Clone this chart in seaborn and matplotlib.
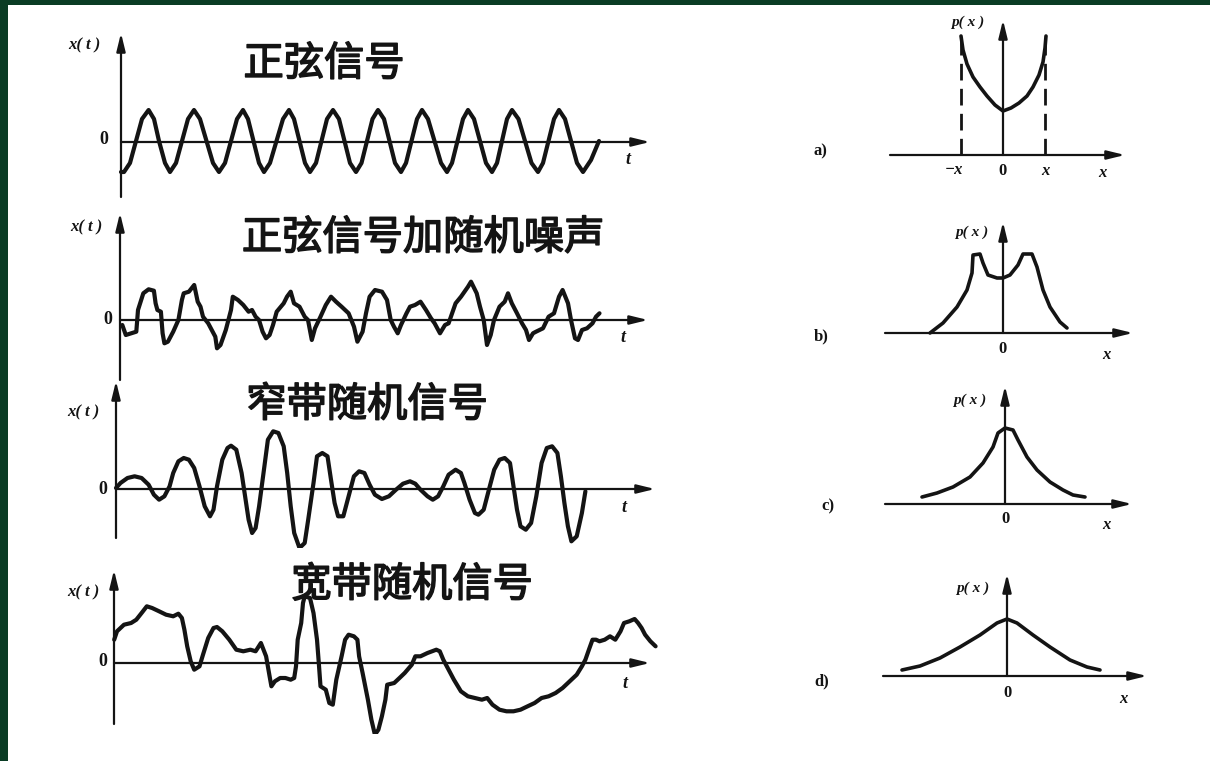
import numpy as np
import pandas as pd
import matplotlib
matplotlib.use("Agg")
import matplotlib.pyplot as plt
import matplotlib.patheffects as pe
import seaborn as sns
from matplotlib.patches import Rectangle

# ---------- data (arbitrary units)
titles = ["正弦信号", "正弦信号加随机噪声", "窄带随机信号", "宽带随机信号"]
panel_tags = ["a)", "b)", "c)", "d)"]

# sine signal
sine_t = [0.3, 0.6, 1.2, 1.8, 2.4, 3.06, 3.6, 4.1, 4.7, 5.2, 5.8, 6.4, 7.0, 7.6,
          8.2, 8.85, 9.5, 10.1, 10.7, 11.3, 11.9, 12.5, 13.0, 13.55, 14.1, 14.6,
          15.2, 15.85, 16.5, 17.1, 17.6, 18.15, 18.7, 19.2, 19.8, 20.35, 20.9, 21.5,
          22.1, 22.65, 23.2, 23.8, 24.35, 24.9, 25.45, 26.0, 26.6, 27.15, 27.7, 28.3,
          28.8, 29.35, 29.9, 30.4, 31.0, 31.65, 32.3, 32.9, 33.4, 33.95, 34.5, 35.0,
          35.6, 36.2, 36.8, 37.4, 37.9, 38.4, 38.9, 39.4, 40.05, 40.7, 41.35, 42.0,
          42.5, 43.05, 43.6, 44.1, 44.7, 45.3, 45.9, 46.5, 47.3, 48.1]
sine_x = [-3.0, -3.0,
          -2.1, 0.1, 2.3, 3.2, 2.3, 0.1, -2.1, -3.0,
          -2.1, 0.1, 2.3, 3.2, 2.3, 0.1, -2.1, -3.0,
          -2.1, 0.1, 2.3, 3.2, 2.3, 0.1, -2.1, -3.0,
          -2.1, 0.1, 2.3, 3.2, 2.3, 0.1, -2.1, -3.0,
          -2.1, 0.1, 2.3, 3.2, 2.3, 0.1, -2.1, -3.0,
          -2.1, 0.1, 2.3, 3.2, 2.3, 0.1, -2.1, -3.0,
          -2.1, 0.1, 2.3, 3.2, 2.3, 0.1, -2.1, -3.0,
          -2.1, 0.1, 2.3, 3.2, 2.3, 0.1, -2.1, -3.0,
          -2.1, 0.1, 2.3, 3.2, 2.3, 0.1, -2.1, -3.0,
          -2.1, 0.1, 2.3, 3.2, 2.3, 0.1, -2.1, -3.0,
          -1.8, 0.1]

# sine plus random noise
noisy_t = [0.43, 0.78, 1.83, 2.0, 2.53, 3.06, 3.59, 3.76, 3.94, 4.29,
           4.46, 4.64, 4.99, 5.52, 6.04, 6.39, 6.57, 7.09, 7.62, 7.97,
           8.25, 8.5, 9.02, 9.73, 9.9, 10.25, 10.78, 11.3, 11.48, 12.0,
           12.53, 13.06, 13.4, 13.76, 14.1, 14.46, 14.8, 15.16, 15.5, 15.87,
           16.57, 16.9, 17.27, 17.6, 18.15, 18.67, 19.0, 19.38, 19.7, 20.25,
           20.78, 21.3, 21.8, 22.36, 23.06, 23.6, 23.94, 24.46, 24.8, 25.16,
           25.7, 26.4, 26.9, 27.27, 27.6, 27.97, 28.3, 28.85, 29.2, 29.7,
           30.25, 30.8, 31.3, 31.66, 32.2, 32.7, 33.06, 33.76, 34.3, 35.0,
           35.3, 35.87, 36.2, 36.57, 36.9, 37.27, 37.6, 38.15, 38.67, 39.0,
           39.38, 39.9, 40.4, 40.8, 41.1, 41.5, 41.8, 42.5, 43.06, 43.6,
           44.1, 44.46, 45.0, 45.3, 45.7, 46.0, 46.4, 46.9, 47.45, 47.8,
           48.15]
noisy_x = [-0.5, -1.5, -1.17, 1.0, 2.67, 3.07, 2.93, 1.67, 1.0, 0.83,
           -1.33, -2.33, -2.17, -1.17, 0.0, 2.0, 2.67, 2.83, 3.5, 1.83,
           1.33, 0.33, -0.33, -1.67, -2.83, -2.5, -1.0, 1.0, 2.33, 2.0,
           1.5, 0.83, 1.0, 0.33, 0.0, -1.17, -1.83, -1.5, -0.5, 0.83,
           1.67, 2.33, 2.83, 1.67, 1.33, 0.33, 0.0, -2.0, -0.83, 0.33,
           1.5, 2.33, 1.83, 1.33, 0.67, -0.67, -2.17, -1.17, 0.67, 2.33,
           3.0, 2.83, 2.0, 0.0, -0.67, -1.33, -0.5, 0.67, 1.33, 1.5,
           1.83, 1.0, 0.17, -0.33, -1.33, -0.5, -0.33, 1.67, 2.33, 3.33,
           3.83, 2.67, 1.33, 0.0, -2.5, -1.5, 0.0, 1.33, 1.83, 2.67,
           1.67, 0.67, -0.33, -1.0, -2.0, -1.33, -1.17, -0.83, 0.33, 0.67,
           2.33, 3.0, 1.67, 0.0, -1.83, -2.0, -1.0, -0.83, -0.33, 0.33,
           0.67]

# narrow-band random signal
narrow_t = [-0.2, 0.25, 0.95, 1.66, 2.36, 3.06, 3.59, 4.11, 4.64, 5.16,
            5.52, 6.04, 6.57, 7.09, 7.62, 8.15, 8.67, 9.2, 9.55, 9.9,
            10.43, 10.95, 11.3, 11.83, 12.36, 12.71, 13.06, 13.41, 13.76, 14.11,
            14.64, 14.99, 15.52, 16.04, 16.57, 16.92, 17.27, 17.62, 18.15, 18.67,
            19.02, 19.55, 19.9, 20.43, 20.95, 21.3, 21.66, 22.01, 22.53, 23.06,
            23.59, 24.11, 24.64, 25.16, 25.69, 26.39, 27.09, 27.8, 28.5, 29.2,
            29.73, 30.25, 30.95, 31.48, 32.01, 32.53, 33.06, 33.76, 34.29, 34.64,
            35.16, 35.69, 36.04, 36.57, 37.09, 37.62, 38.15, 38.67, 39.2, 39.55,
            39.9, 40.25, 40.78, 41.31, 41.83, 42.36, 42.88, 43.41, 43.94, 44.29,
            44.64, 44.99, 45.34, 45.87, 46.39, 46.74]
narrow_x = [0.1, 0.6, 1.1, 1.27, 1.1, 0.43, -0.57, -1.07, -0.73, 0.27,
            1.6, 2.77, 3.1, 2.93, 2.1, 0.27, -1.73, -2.73, -2.07, 0.27,
            2.93, 4.1, 4.33, 3.93, 1.6, -0.73, -3.07, -4.4, -3.9, -1.73,
            2.27, 4.93, 5.77, 5.6, 4.27, 1.6, -1.73, -4.4, -5.9, -5.4,
            -3.07, 0.6, 3.27, 3.6, 3.27, 0.93, -1.4, -2.73, -2.73, -0.73,
            1.27, 1.77, 1.6, 0.43, -0.57, -1.0, -0.73, -0.07, 0.53, 0.77,
            0.53, -0.07, -0.73, -1.07, -0.73, 0.27, 1.43, 1.93, 1.6, 0.6,
            -1.07, -2.4, -2.57, -2.07, -0.07, 1.93, 2.93, 3.1, 2.6, 0.27,
            -2.07, -3.73, -4.07, -3.4, -0.73, 2.6, 4.1, 4.27, 3.6, 1.27,
            -1.4, -3.73, -5.23, -4.73, -2.4, -0.23]

# wide-band random signal
wide_t = [-0.38, -0.1, 0.6, 1.31, 1.83, 2.36, 2.88, 3.41, 4.11, 4.81,
          5.52, 6.04, 6.39, 6.64, 6.92, 7.27, 7.62, 8.15, 8.5, 9.02,
          9.55, 9.9, 10.43, 11.13, 11.83, 12.53, 13.24, 13.76, 14.29, 14.81,
          15.16, 15.34, 15.69, 16.22, 16.74, 17.27, 17.62, 17.8, 17.97, 18.32,
          18.5, 18.67, 19.2, 19.55, 19.9, 20.08, 20.25, 20.78, 21.13, 21.48,
          21.83, 22.36, 22.71, 23.06, 23.59, 23.94, 24.11, 24.46, 24.99, 25.34,
          25.69, 26.04, 26.39, 26.74, 26.92, 27.62, 28.15, 28.67, 29.38, 29.73,
          30.25, 30.95, 31.83, 32.18, 32.53, 33.06, 33.59, 34.29, 34.99, 35.69,
          36.39, 36.92, 37.45, 38.15, 38.85, 39.55, 40.25, 40.96, 41.66, 42.36,
          43.06, 43.76, 44.46, 45.17, 45.87, 46.39, 46.74, 47.09, 47.45, 47.8,
          48.15, 48.67, 49.2, 49.73, 50.25, 50.6, 51.13, 51.66, 52.01, 52.36,
          52.71, 53.24, 53.76]
wide_x = [2.33, 3.17, 3.83, 4.0, 4.33, 5.0, 5.67, 5.5, 5.17, 4.83,
          4.67, 4.93, 4.5, 3.33, 1.67, 0.17, -0.67, -0.33, 0.83, 2.5,
          3.5, 3.6, 3.17, 2.33, 1.33, 1.17, 1.33, 1.17, 2.0, 0.67,
          -1.33, -2.33, -1.83, -1.5, -1.5, -1.67, -1.5, -0.33, 2.33, 4.0,
          6.0, 6.67, 6.5, 5.0, 2.33, 0.0, -2.33, -2.67, -4.0, -4.17,
          -1.67, 0.67, 2.33, 2.83, 2.67, 2.33, 0.67, -1.0, -3.67, -5.67,
          -7.17, -6.67, -5.33, -3.67, -2.17, -2.0, -1.5, -1.0, -0.17, 0.67,
          0.67, 1.0, 1.33, 1.17, 0.33, -0.67, -1.67, -2.83, -3.33, -3.5,
          -3.67, -3.5, -4.17, -4.67, -4.83, -4.83, -4.67, -4.33, -4.0, -3.5,
          -3.33, -3.0, -2.5, -1.83, -1.17, -0.33, 0.33, 1.33, 2.33, 2.33,
          2.17, 2.33, 2.67, 2.33, 3.17, 4.0, 4.17, 4.4, 4.0, 3.5,
          2.83, 2.17, 1.67]

# probability densities p(x)
pa_x = [-4.2, -4.0, -3.6, -3.0, -2.3, -1.6, -0.8, 0.0, 0.8, 1.6, 2.4, 3.0, 3.6, 4.0, 4.2, 4.3]
pa_p = [11.9, 10.5, 9.1, 7.8, 6.8, 5.9, 5.0, 4.4, 4.7, 5.2, 5.9, 6.8, 8.0, 9.3, 10.7, 11.9]
pa_bound = 4.2
pb_x = [-7.3, -6.0, -4.6, -3.6, -3.1, -3.0, -2.3, -2.0, -1.5, -0.6, 0.0,
        0.7, 1.5, 2.0, 2.9, 3.4, 4.0, 4.7, 5.7, 6.4]
pb_p = [0.0, 1.0, 2.6, 4.3, 6.0, 7.8, 7.9, 7.0, 5.8, 5.5, 5.5,
        5.8, 6.8, 7.9, 7.9, 6.6, 4.3, 2.6, 1.1, 0.5]
pc_x = [-8.3, -6.8, -5.2, -3.5, -2.2, -1.2, -0.7, 0.0, 0.8, 1.3, 2.2, 3.2, 4.5, 5.8, 6.8, 8.0]
pc_p = [0.7, 1.1, 1.7, 2.7, 4.1, 5.7, 7.1, 7.6, 7.4, 6.4, 4.7, 3.4, 2.2, 1.4, 0.9, 0.7]
pd_x = [-10.5, -8.7, -6.7, -4.7, -2.7, -1.0, 0.0, 1.0, 2.6, 4.3, 6.3, 8.0, 9.3]
pd_p = [0.6, 1.0, 1.8, 2.9, 4.1, 5.3, 5.7, 5.3, 4.1, 2.9, 1.6, 0.9, 0.6]

signals = [(sine_t, sine_x), (noisy_t, noisy_x), (narrow_t, narrow_x), (wide_t, wide_x)]
densities = [(pa_x, pa_p), (pb_x, pb_p), (pc_x, pc_p), (pd_x, pd_p)]

# ---------- layout (pixels of the 1210 x 761 picture)
W, H = 1210, 761
T0 = 118          # pixel x of t = 0
UNIT = 10.0       # pixels per data unit
ink = "#141414"

left_layout = [
    dict(ax_x=121, zero=142, top=33, bot=197, end=650, title=(324, 64), xt=(84, 45), z=(104, 140), tl=(628, 160)),
    dict(ax_x=120, zero=320, top=213, bot=380, end=648, title=(423, 238), xt=(86, 227), z=(108, 319), tl=(623, 337)),
    dict(ax_x=116, zero=489, top=381, bot=538, end=655, title=(367, 405), xt=(83, 412), z=(103, 489), tl=(624, 508)),
    dict(ax_x=114, zero=663, top=570, bot=724, end=650, title=(412, 585), xt=(83, 592), z=(103, 662), tl=(625, 684)),
]
right_layout = [
    dict(cx=1003, base=155, left=890, right=1125, top=20, tag=(820, 151), p=(968, 22), z=(1003, 171), xl=(1102, 173)),
    dict(cx=1003, base=333, left=885, right=1133, top=222, tag=(821, 336), p=(972, 232), z=(1003, 349), xl=(1106, 355)),
    dict(cx=1005, base=504, left=885, right=1132, top=386, tag=(828, 506), p=(970, 400), z=(1006, 519), xl=(1106, 525)),
    dict(cx=1007, base=676, left=883, right=1147, top=574, tag=(822, 681), p=(973, 588), z=(1008, 693), xl=(1123, 699)),
]

sns.set_theme(style="white")
plt.rcParams['font.family'] = ['Noto Sans CJK SC', 'DejaVu Sans']

fig = plt.figure(figsize=(W / 100, H / 100), dpi=100)
fig.patch.set_facecolor("#0a3c24")
fig.add_artist(Rectangle((8 / W, 0), 1 - 8 / W, 1 - 5 / H, transform=fig.transFigure,
                         facecolor="white", edgecolor="none", zorder=-5))


def px_axes(x0, y0, x1, y1):
    ax = fig.add_axes([x0 / W, 1 - y1 / H, (x1 - x0) / W, (y1 - y0) / H])
    ax.set_facecolor("none")
    ax.set_axis_off()
    return ax


def put(x, y, s, **kw):
    return fig.text(x / W, 1 - y / H, s, ha="center", va="center", color=ink, **kw)


serif = dict(family="Liberation Serif", style="italic", weight="bold")
arrow = dict(arrowstyle="-|>,head_length=0.9,head_width=0.22", lw=1.6, color=ink,
             shrinkA=0, shrinkB=0)
heavy = [pe.withStroke(linewidth=1.1, foreground=ink)]

# ---------- left column: time signals
for (t, x), lay, title in zip(signals, left_layout, titles):
    x0, x1 = 20, 680
    y0, y1 = lay["top"] - 10, lay["bot"] + 10
    ax = px_axes(x0, y0, x1, y1)
    ax.set_xlim((x0 - T0) / UNIT, (x1 - T0) / UNIT)
    ax.set_ylim((lay["zero"] - y1) / UNIT, (lay["zero"] - y0) / UNIT)
    ta = (lay["ax_x"] - T0) / UNIT
    ax.annotate("", xy=(ta, (lay["zero"] - lay["top"]) / UNIT),
                xytext=(ta, (lay["zero"] - lay["bot"]) / UNIT), arrowprops=arrow)
    ax.annotate("", xy=((lay["end"] - T0) / UNIT, 0), xytext=(ta, 0), arrowprops=arrow)
    df = pd.DataFrame({"t": t, "x": x})
    sns.lineplot(data=df, x="t", y="x", ax=ax, sort=False, estimator=None,
                 color=ink, lw=3.0, legend=False)
    ax.set_xlabel("")
    ax.set_ylabel("")
    put(*lay["title"], title, fontsize=29, weight="normal", path_effects=heavy)
    put(*lay["xt"], "x( t )", fontsize=12, **serif)
    put(*lay["z"], "0", fontsize=13, family="Liberation Serif", weight="bold")
    put(*lay["tl"], "t", fontsize=13, **serif)

# ---------- right column: probability density p(x)
for i, ((xv, pv), lay, tag) in enumerate(zip(densities, right_layout, panel_tags)):
    x0, x1 = 850, 1170
    y0, y1 = lay["top"] - 15, lay["base"] + 30
    ax = px_axes(x0, y0, x1, y1)
    ax.set_xlim((x0 - lay["cx"]) / UNIT, (x1 - lay["cx"]) / UNIT)
    ax.set_ylim((lay["base"] - y1) / UNIT, (lay["base"] - y0) / UNIT)
    ax.annotate("", xy=(0, (lay["base"] - lay["top"]) / UNIT), xytext=(0, 0), arrowprops=arrow)
    ax.annotate("", xy=((lay["right"] - lay["cx"]) / UNIT, 0),
                xytext=((lay["left"] - lay["cx"]) / UNIT, 0), arrowprops=arrow)
    df = pd.DataFrame({"x": xv, "p": pv})
    sns.lineplot(data=df, x="x", y="p", ax=ax, sort=False, estimator=None,
                 color=ink, lw=2.6, legend=False)
    ax.set_xlabel("")
    ax.set_ylabel("")
    if i == 0:
        ax.vlines([-pa_bound, pa_bound], 0, max(pa_p), colors=ink, lw=2.0,
                  linestyles=(0, (6, 3)))
        put(lay["cx"] - 10 * pa_bound - 7, 170, "−x", fontsize=12, **serif)
        put(lay["cx"] + 10 * pa_bound, 171, "x", fontsize=12, **serif)
    put(*lay["tag"], tag, fontsize=12, family="Liberation Serif", weight="bold")
    put(*lay["p"], "p( x )", fontsize=11, **serif)
    put(*lay["z"], "0", fontsize=12, family="Liberation Serif", weight="bold")
    put(*lay["xl"], "x", fontsize=12, **serif)

fig.savefig("out.png", dpi=100, facecolor=fig.get_facecolor())
